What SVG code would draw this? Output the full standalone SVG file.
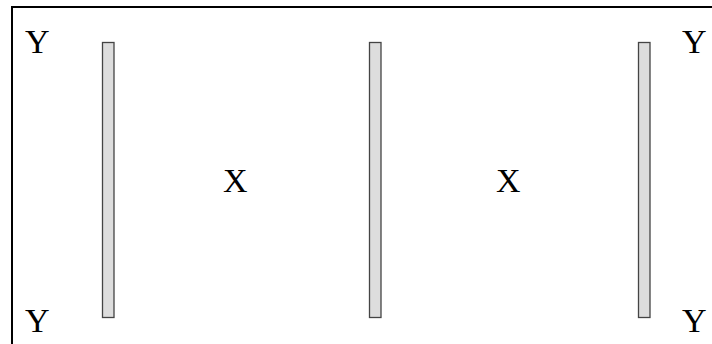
<svg xmlns="http://www.w3.org/2000/svg" width="712" height="344" viewBox="0 0 712 344">
<style>
.frame{fill:#fff;stroke:#000;stroke-width:2}
.bar{fill:#ddd;stroke:#444;stroke-width:1.3}
.t{font-family:"Liberation Serif",serif;font-size:34px;fill:#000}
</style>
<rect class="frame" x="12" y="7" width="720" height="360"/>
<g id="bar1"><rect class="bar" x="102.5" y="42.5" width="11.5" height="275"/></g>
<g id="bar2"><rect class="bar" x="369.5" y="42.5" width="11.5" height="275"/></g>
<g id="bar3"><rect class="bar" x="638.5" y="42.5" width="11.5" height="275"/></g>
<g id="labels">
<text class="t" x="25" y="53">Y</text>
<text class="t" x="25" y="332">Y</text>
<text class="t" x="682" y="53">Y</text>
<text class="t" x="682" y="332">Y</text>
<text class="t" x="223" y="192">X</text>
<text class="t" x="496" y="192">X</text>
</g>
</svg>
